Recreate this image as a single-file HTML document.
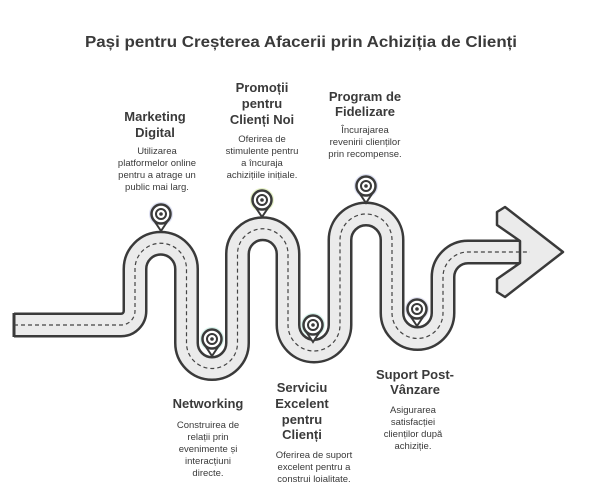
<!DOCTYPE html>
<html><head><meta charset="utf-8"><style>
body{margin:0;background:#fff;width:600px;height:490px;overflow:hidden;font-family:"Liberation Sans",sans-serif;}
svg{position:absolute;left:0;top:0}
</style></head><body>
<svg width="600" height="490" viewBox="0 0 600 490">
<defs>
<path id="road" d="M14,325 L121,325 A14,14 0 0 0 135,311 L135,269 A25.5,25.5 0 0 1 186.5,269 L186.5,343 A25.5,25.5 0 0 0 237.5,343 L237.5,254 A25.25,25.25 0 0 1 288,254 L288,325 A26,26 0 0 0 340,325 L340,240 A26,26 0 0 1 392,240 L392,313 A25.5,25.5 0 0 0 443,313 L443,277 A25,25 0 0 1 468,252 L530,252"/>
</defs>
<use href="#road" fill="none" stroke="#3a3a3a" stroke-width="25" stroke-linejoin="round"/>
<use href="#road" fill="none" stroke="#ebebeb" stroke-width="20" stroke-linejoin="round"/>
<path d="M14,313 L14,337" stroke="#3a3a3a" stroke-width="3"/>
<polygon points="520,241 497,225 497,212 505,207 563,252 505,297 497,292 497,279 520,263" fill="#ebebeb" stroke="#3a3a3a" stroke-width="2.5" stroke-linejoin="round"/>
<use href="#road" fill="none" stroke="#444" stroke-width="1.2" stroke-dasharray="4,3"/>
<g stroke="#3a3a3a" fill="#fff">
<g transform="translate(161,214)"><circle r="12" fill="#dde0f2" stroke="none"/><path d="M-8,5 L0,17 L8,5" stroke-width="2" fill="#fff"/><circle r="9.5" stroke-width="2.5"/><circle r="5" stroke-width="2"/><circle r="1.8" fill="#3a3a3a" stroke="none"/></g>
<g transform="translate(212,339)"><circle r="12" fill="#d7f2ea" stroke="none"/><path d="M-8,5 L0,17 L8,5" stroke-width="2" fill="#fff"/><circle r="9.5" stroke-width="2.5"/><circle r="5" stroke-width="2"/><circle r="1.8" fill="#3a3a3a" stroke="none"/></g>
<g transform="translate(262,200)"><circle r="12" fill="#e6f2c8" stroke="none"/><path d="M-8,5 L0,17 L8,5" stroke-width="2" fill="#fff"/><circle r="9.5" stroke-width="2.5"/><circle r="5" stroke-width="2"/><circle r="1.8" fill="#3a3a3a" stroke="none"/></g>
<g transform="translate(313,325)"><circle r="12" fill="#d7f2ea" stroke="none"/><path d="M-8,5 L0,17 L8,5" stroke-width="2" fill="#fff"/><circle r="9.5" stroke-width="2.5"/><circle r="5" stroke-width="2"/><circle r="1.8" fill="#3a3a3a" stroke="none"/></g>
<g transform="translate(366,186)"><circle r="12" fill="#dde0f2" stroke="none"/><path d="M-8,5 L0,17 L8,5" stroke-width="2" fill="#fff"/><circle r="9.5" stroke-width="2.5"/><circle r="5" stroke-width="2"/><circle r="1.8" fill="#3a3a3a" stroke="none"/></g>
<g transform="translate(417,309)"><circle r="12" fill="#e4e4f2" stroke="none"/><path d="M-8,5 L0,17 L8,5" stroke-width="2" fill="#fff"/><circle r="9.5" stroke-width="2.5"/><circle r="5" stroke-width="2"/><circle r="1.8" fill="#3a3a3a" stroke="none"/></g>
</g>
<g fill="#3a3a3a" text-anchor="middle" font-family="Liberation Sans, sans-serif">
<text x="301" y="47" font-size="16" font-weight="bold" textLength="432" lengthAdjust="spacingAndGlyphs">Pași pentru Creșterea Afacerii prin Achiziția de Clienți</text>
<g font-size="13" font-weight="bold">
<text x="155" y="121">Marketing</text><text x="155" y="137">Digital</text>
<text x="262" y="92">Promoții</text><text x="262" y="108">pentru</text><text x="262" y="124">Clienți Noi</text>
<text x="365" y="101">Program de</text><text x="365" y="116">Fidelizare</text>
<text x="208" y="408">Networking</text>
<text x="302" y="392">Serviciu</text><text x="302" y="408">Excelent</text><text x="302" y="424">pentru</text><text x="302" y="439">Clienți</text>
<text x="415" y="379">Suport Post-</text><text x="415" y="394">Vânzare</text>
</g>
<g font-size="9.5">
<text x="157" y="154">Utilizarea</text><text x="157" y="166">platformelor online</text><text x="157" y="178">pentru a atrage un</text><text x="157" y="190">public mai larg.</text>
<text x="262" y="142">Oferirea de</text><text x="262" y="154">stimulente pentru</text><text x="262" y="166">a încuraja</text><text x="262" y="178">achizițiile inițiale.</text>
<text x="365" y="133">Încurajarea</text><text x="365" y="145">revenirii clienților</text><text x="365" y="157">prin recompense.</text>
<text x="208" y="428">Construirea de</text><text x="208" y="440">relații prin</text><text x="208" y="452">evenimente și</text><text x="208" y="464">interacțiuni</text><text x="208" y="476">directe.</text>
<text x="314" y="458">Oferirea de suport</text><text x="314" y="470">excelent pentru a</text><text x="314" y="482">construi loialitate.</text>
<text x="413" y="413">Asigurarea</text><text x="413" y="425">satisfacției</text><text x="413" y="437">clienților după</text><text x="413" y="449">achiziție.</text>
</g>
</g>
</svg>
</body></html>
